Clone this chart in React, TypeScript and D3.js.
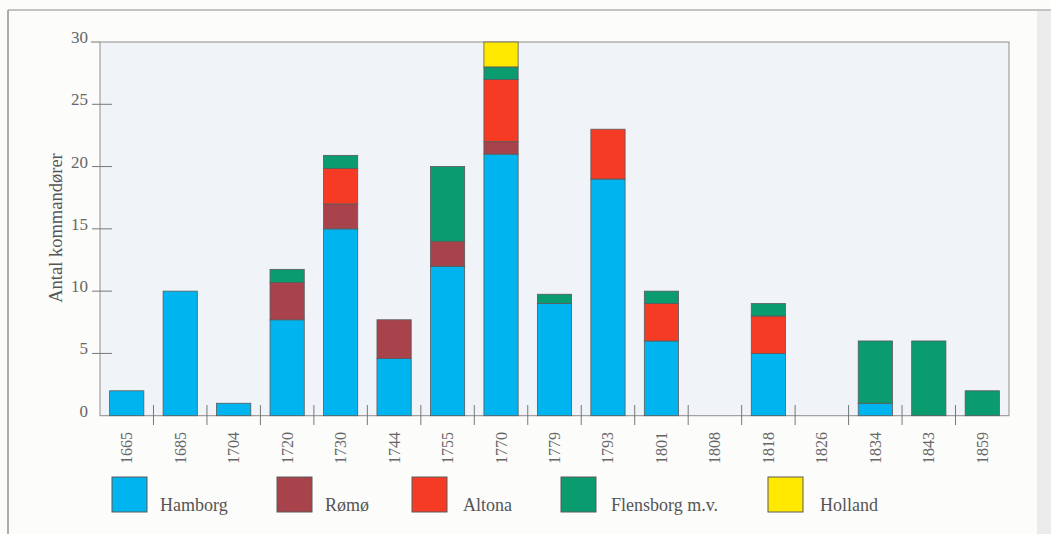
import React from "react";
import * as d3 from "d3";

const years = ["1665","1685","1704","1720","1730","1744","1755","1770","1779","1793","1801","1808","1818","1826","1834","1843","1859"];
const hamborg = [2, 10, 1, 7.7, 15, 4.6, 12, 21, 9, 19, 6, 0, 5, 0, 1, 0, 0];
const romo = [0, 0, 0, 3, 2, 3.1, 2, 1, 0, 0, 0, 0, 0, 0, 0, 0, 0];
const altona = [0, 0, 0, 0, 2.85, 0, 0, 5, 0, 4, 3, 0, 3, 0, 0, 0, 0];
const flensborg = [0, 0, 0, 1.05, 1.05, 0, 6, 1, 0.75, 0, 1, 0, 1, 0, 5, 6, 2];
const holland = [0, 0, 0, 0, 0, 0, 0, 2, 0, 0, 0, 0, 0, 0, 0, 0, 0];
const seriesNames = ["Hamborg", "Rømø", "Altona", "Flensborg m.v.", "Holland"];
const seriesColors = ["#00b5ef", "#a8434b", "#f63b24", "#0a9b6f", "#ffe900"];
const yTicks = [0, 5, 10, 15, 20, 25, 30];
const yTitle = "Antal kommandører";

const W = 1051, H = 534;
const left = 100, right = 1009, top = 42, bottom = 415.7;
const FONT = "'Liberation Serif', 'DejaVu Serif', serif";

export default function App() {
  const keys = ["h", "r", "a", "f", "o"];
  const rows = years.map((y, i) => ({
    year: y, h: hamborg[i], r: romo[i], a: altona[i], f: flensborg[i], o: holland[i],
  }));
  const stack = d3.stack<any>().keys(keys)(rows);
  const x = d3.scaleBand<string>().domain(years).range([left, right]).paddingInner(0.36).paddingOuter(0.18);
  const y = d3.scaleLinear().domain([0, 30]).range([bottom, top]);
  const step = x.step();
  const legendSwatchX = [112, 277, 412, 561, 768];
  const legendLabelX = [160, 325, 463, 611, 820];

  return (
    <svg width={W} height={H} style={{ position: "absolute", left: 0, top: 0, background: "#fcfcfb" }}>
      <rect x={0} y={0} width={W} height={H} fill="#fcfcfb" />
      {/* scan frame */}
      <line x1={8} y1={10} x2={W} y2={10} stroke="#8a8a8a" strokeWidth={1.2} />
      <line x1={8} y1={10} x2={8} y2={H} stroke="#8a8a8a" strokeWidth={1.4} />
      <rect x={1037} y={11} width={14} height={H - 11} fill="#ececec" />
      {/* plot background */}
      <rect x={left} y={top} width={right - left} height={bottom - top} fill="#f0f4f9" stroke="#8d8d8d" strokeWidth={1} />
      {/* bars */}
      {stack.map((s, si) =>
        s.map((d, i) => {
          const h = y(d[0]) - y(d[1]);
          if (h <= 0.01) return null;
          return (
            <rect key={si + "-" + i} x={x(years[i])} y={y(d[1])} width={x.bandwidth()} height={h}
              fill={seriesColors[si]} stroke="#5a5a5a" strokeWidth={0.8} />
          );
        })
      )}
      {/* y axis ticks */}
      {yTicks.map((t) => (
        <g key={t}>
          {t > 0 && t < 30 && <line x1={92} x2={112} y1={y(t)} y2={y(t)} stroke="#777" strokeWidth={1} />}
          {t === 30 && <line x1={91} x2={left} y1={y(t)} y2={y(t)} stroke="#777" strokeWidth={1} />}
          <text x={88} y={y(t) + 1} textAnchor="end" fontFamily={FONT} fontSize={17} fill="#666">{t}</text>
        </g>
      ))}
      <text transform={`translate(62,228) rotate(-90)`} textAnchor="middle" fontFamily={FONT} fontSize={18.5} fill="#555">{yTitle}</text>
      {/* x axis separators */}
      {years.slice(1).map((yr, i) => {
        const xx = left + step * (i + 1);
        return <line key={yr} x1={xx} x2={xx} y1={405} y2={425} stroke="#777" strokeWidth={1} />;
      })}
      {years.map((yr) => (
        <text key={yr} transform={`translate(${(x(yr) || 0) + x.bandwidth() / 2},432) rotate(-90)`}
          textAnchor="end" dominantBaseline="central" fontFamily={FONT} fontSize={16} fill="#666">{yr}</text>
      ))}
      {/* legend */}
      {seriesNames.map((n, i) => (
        <g key={n}>
          <rect x={legendSwatchX[i]} y={477} width={35} height={35} fill={seriesColors[i]} stroke="#5a5a5a" strokeWidth={1} />
          <text x={legendLabelX[i]} y={511} fontFamily={FONT} fontSize={18} fill="#555">{n}</text>
        </g>
      ))}
    </svg>
  );
}
